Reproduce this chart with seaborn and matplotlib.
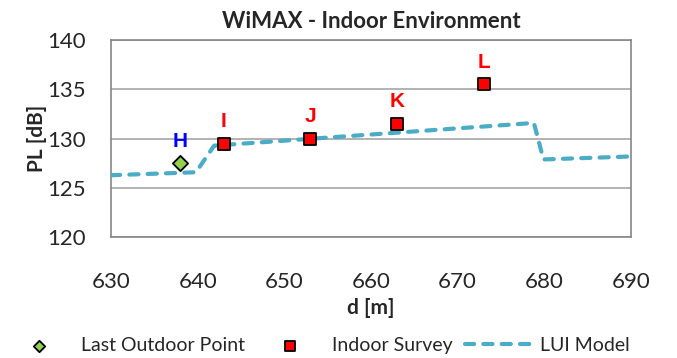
import matplotlib
matplotlib.use('Agg')
import matplotlib.pyplot as plt
import seaborn as sns
import pandas as pd

# Data
model_d = [630, 639.8, 641.9, 678.8, 679.9, 690]
model_pl = [126.3, 126.6, 129.3, 131.6, 127.9, 128.2]

outdoor_d = [638]
outdoor_pl = [127.5]
outdoor_labels = ['H']

indoor_d = [643, 653, 663, 673]
indoor_pl = [129.5, 130.0, 131.5, 135.5]
indoor_labels = ['I', 'J', 'K', 'L']

sns.set_style('white')
plt.rcParams['font.family'] = ['Lato', 'DejaVu Sans']

fig = plt.figure(figsize=(6.77, 3.58), dpi=100)
ax = fig.add_axes([0.164, 0.337, 0.768, 0.551])

model = pd.DataFrame({'d': model_d, 'pl': model_pl})
outdoor = pd.DataFrame({'d': outdoor_d, 'pl': outdoor_pl})
indoor = pd.DataFrame({'d': indoor_d, 'pl': indoor_pl})

sns.scatterplot(data=outdoor, x='d', y='pl', ax=ax, marker='D', s=60,
                color='#92D050', edgecolor='black', linewidth=1.3,
                label='Last Outdoor Point', zorder=4)
sns.scatterplot(data=indoor, x='d', y='pl', ax=ax, marker='s', s=80,
                color='#FF0000', edgecolor='black', linewidth=1.3,
                label='Indoor Survey', zorder=4)
sns.lineplot(data=model, x='d', y='pl', ax=ax, color='#4BACC6', linewidth=3,
             linestyle=(0, (2.2, 2.2)), dash_capstyle='round',
             label='LUI Model', zorder=3)

# point labels
for d, pl, t in zip(outdoor_d, outdoor_pl, outdoor_labels):
    ax.text(d, pl + 1.3, t, color='#0000FF', fontsize=15, fontweight='bold',
            family='Liberation Sans', ha='center', va='bottom')
for d, pl, t in zip(indoor_d, indoor_pl, indoor_labels):
    ax.text(d, pl + 1.3, t, color='#FF0000', fontsize=15, fontweight='bold',
            family='Liberation Sans', ha='center', va='bottom')

ax.set_xlim(630, 690)
ax.set_ylim(120, 140)
ax.set_xticks(range(630, 691, 10))
ax.set_yticks(range(120, 141, 5))
ax.grid(axis='y', color='#A6A6A6', linewidth=1.2)
for s in ax.spines.values():
    s.set_color('#868686')
    s.set_linewidth(1.2)
ax.tick_params(axis='x', direction='out', length=5, color='#868686',
               labelsize=16, pad=20)
ax.tick_params(axis='y', direction='out', length=0, labelsize=16, pad=18)

ax.set_title('WiMAX - Indoor Environment', fontsize=16, fontweight='bold', pad=9)
ax.set_xlabel('d [m]', fontsize=15, fontweight='bold', labelpad=4)
ax.set_ylabel('PL [dB]', fontsize=15, fontweight='bold', labelpad=0)

handles, labels = ax.get_legend_handles_labels()
ax.legend_.remove()
fig.legend(handles, labels, loc='center', bbox_to_anchor=(0.47, 0.036),
           ncol=3, frameon=False, fontsize=14, handlelength=3.35,
           columnspacing=0.63, handletextpad=0.5, markerscale=0.75,
           borderpad=0, borderaxespad=0)

fig.savefig('out.png', dpi=100)
